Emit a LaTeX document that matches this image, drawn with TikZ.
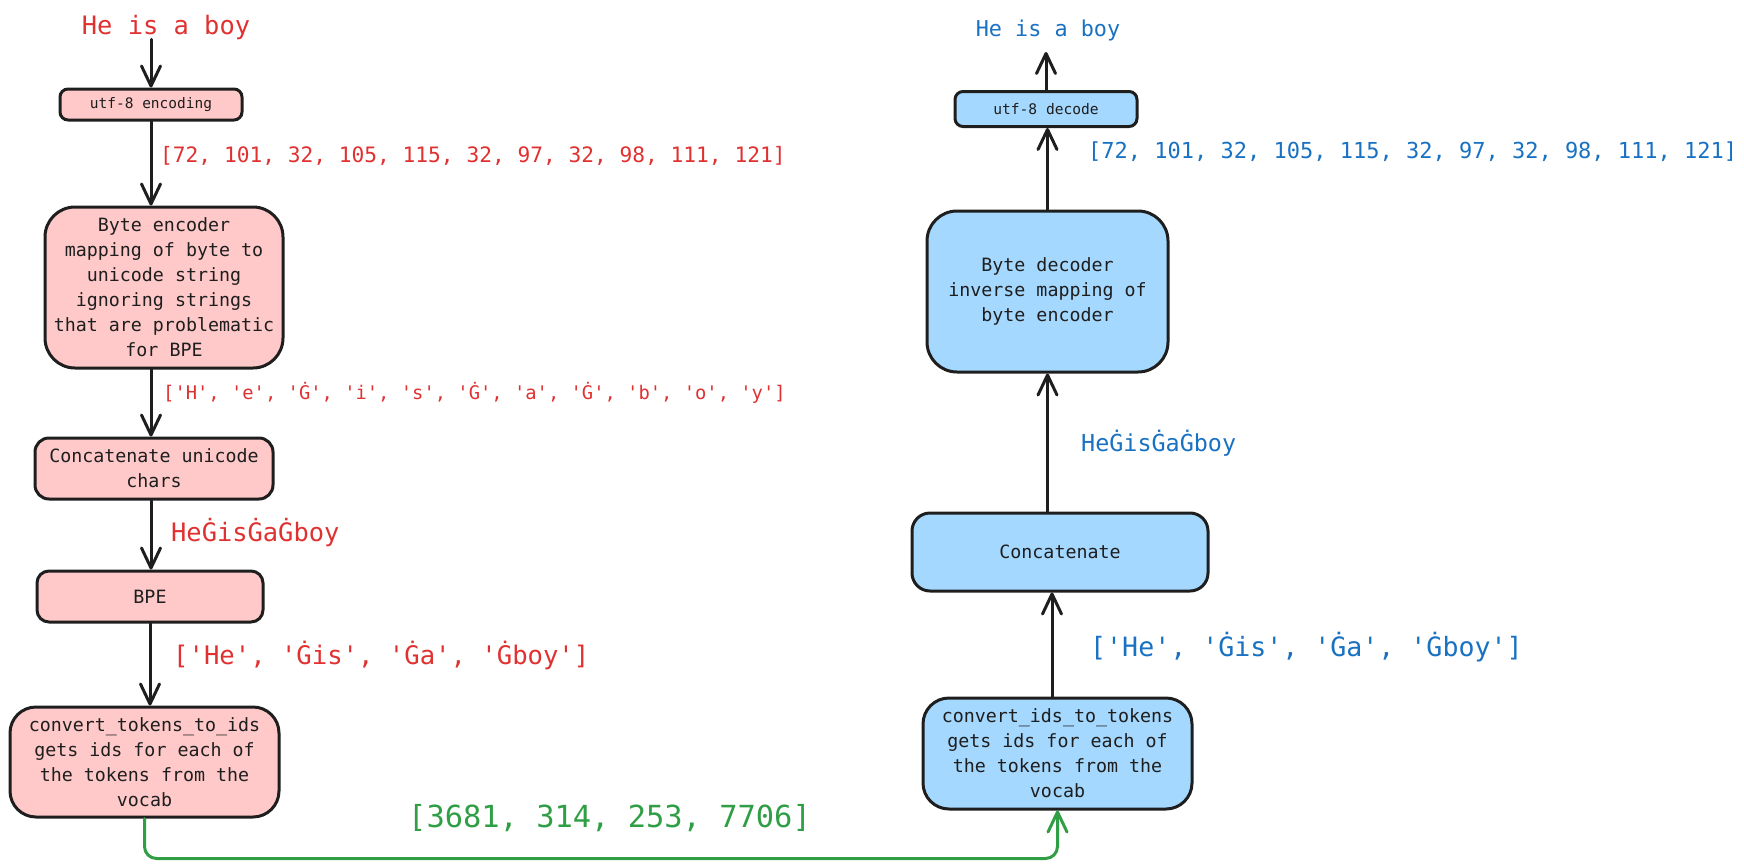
\documentclass[tikz,border=0pt]{standalone}
\usepackage{fontspec}
\setmonofont{DejaVu Sans Mono}
\usetikzlibrary{arrows.meta}
\definecolor{exred}{HTML}{E03131}
\definecolor{exblue}{HTML}{1971C2}
\definecolor{exgreen}{HTML}{2F9E44}
\definecolor{pinkfill}{HTML}{FFC9C9}
\definecolor{bluefill}{HTML}{A5D8FF}
\definecolor{ink}{HTML}{1E1E1E}
\newcommand{\myfs}[2]{\ttfamily\fontsize{#1}{#2}\selectfont}
\tikzset{
  boxbase/.style={draw=ink, line width=3pt, inner sep=0pt, align=center, text=ink},
  pbox/.style={boxbase, fill=pinkfill},
  bbox/.style={boxbase, fill=bluefill},
  arr/.style={draw=ink, line width=3pt, line cap=round,
    -{Straight Barb[length=20pt,width=19pt,line cap=round,line join=round]}},
  garr/.style={draw=exgreen, line width=3pt, line cap=round, rounded corners=12pt,
    -{Straight Barb[length=20pt,width=19pt,line cap=round,line join=round]}},
  lbl/.style={anchor=west, inner sep=0pt},
}
\begin{document}
\begin{tikzpicture}[x=1pt,y=-1pt]
\useasboundingbox (0,0) rectangle (1744,867);

% ---------- left column ----------
\node[text=exred, font=\myfs{25.4}{30}, inner sep=0pt] (in) at (166,27) {He is a boy};
\node[pbox, minimum width=182pt, minimum height=31pt, rounded corners=8pt, font=\myfs{14.5}{18}] (u8enc) at (151,104.5) {utf-8 encoding};
\node[pbox, minimum width=238pt, minimum height=161pt, rounded corners=30pt, font=\myfs{18.3}{25}] (benc) at (164,287.5)
  {Byte encoder\\mapping of byte to\\unicode string\\ignoring strings\\that are problematic\\for BPE};
\node[pbox, minimum width=238pt, minimum height=61pt, rounded corners=14pt, font=\myfs{18.3}{25}] (concatl) at (154,468.5)
  {Concatenate unicode\\chars};
\node[pbox, minimum width=226pt, minimum height=51pt, rounded corners=12pt, font=\myfs{18.3}{25}] (bpe) at (150,596.5) {BPE};
\node[pbox, minimum width=269pt, minimum height=110pt, rounded corners=26pt, font=\myfs{18.3}{25}] (c2i) at (144.5,762)
  {convert\_tokens\_to\_ids\\gets ids for each of\\the tokens from the\\vocab};

\node[lbl, text=exred, font=\myfs{21.2}{25}] (l1) at (160,156) {[72, 101, 32, 105, 115, 32, 97, 32, 98, 111, 121]};
\node[lbl, text=exred, font=\myfs{18.8}{22}] (l2) at (163,393) {['H', 'e', 'Ġ', 'i', 's', 'Ġ', 'a', 'Ġ', 'b', 'o', 'y']};
\node[lbl, text=exred, font=\myfs{25.4}{30}] (l3) at (171,533) {HeĠisĠaĠboy};
\node[lbl, text=exred, font=\myfs{25.6}{30}] (l4) at (173,655) {['He', 'Ġis', 'Ġa', 'Ġboy']};

\draw[arr] (u8enc.north |- in.south) -- (u8enc.north);
\draw[arr] (u8enc.south) -- (u8enc.south |- benc.north);
\draw[arr] (benc.south -| u8enc.south) -- (concatl.north -| u8enc.south);
\draw[arr] (concatl.south -| u8enc.south) -- (bpe.north -| u8enc.south);
\draw[arr] (bpe.south) -- (bpe.south |- c2i.north);

% ---------- right column ----------
\node[text=exblue, font=\myfs{21.8}{26}, inner sep=0pt] (out) at (1048,30) {He is a boy};
\node[bbox, minimum width=182pt, minimum height=35pt, rounded corners=8pt, font=\myfs{14.6}{18}] (u8dec) at (1046,109) {utf-8 decode};
\node[bbox, minimum width=241pt, minimum height=161pt, rounded corners=30pt, font=\myfs{18.3}{25}] (bdec) at (1047.5,291.5)
  {Byte decoder\\inverse mapping of\\byte encoder};
\node[bbox, minimum width=296pt, minimum height=78pt, rounded corners=18pt, font=\myfs{18.3}{25}] (concatr) at (1060,552) {Concatenate};
\node[bbox, minimum width=269pt, minimum height=111pt, rounded corners=26pt, font=\myfs{18.3}{25}] (i2c) at (1057.5,753.5)
  {convert\_ids\_to\_tokens\\gets ids for each of\\the tokens from the\\vocab};

\node[lbl, text=exblue, font=\myfs{22}{26}] (r1) at (1088,152) {[72, 101, 32, 105, 115, 32, 97, 32, 98, 111, 121]};
\node[lbl, text=exblue, font=\myfs{23.4}{28}] (r3) at (1081,443) {HeĠisĠaĠboy};
\node[lbl, text=exblue, font=\myfs{26.6}{30}] (r4) at (1090,647) {['He', 'Ġis', 'Ġa', 'Ġboy']};

\coordinate (outtip) at (1046,52);
\draw[arr] (u8dec.north) -- (outtip);
\draw[arr] (bdec.north) -- (bdec.north |- u8dec.south);
\draw[arr] (concatr.north -| bdec.south) -- (bdec.south);
\coordinate (rx) at (1052,0);
\draw[arr] (i2c.north -| rx) -- (concatr.south -| rx);

% ---------- green connector ----------
\node[lbl, text=exgreen, font=\myfs{30.4}{36}] (g) at (408,818) {[3681, 314, 253, 7706]};
\draw[garr] (c2i.south) -- ++(0,40) -| (i2c.south);

\end{tikzpicture}
\end{document}
